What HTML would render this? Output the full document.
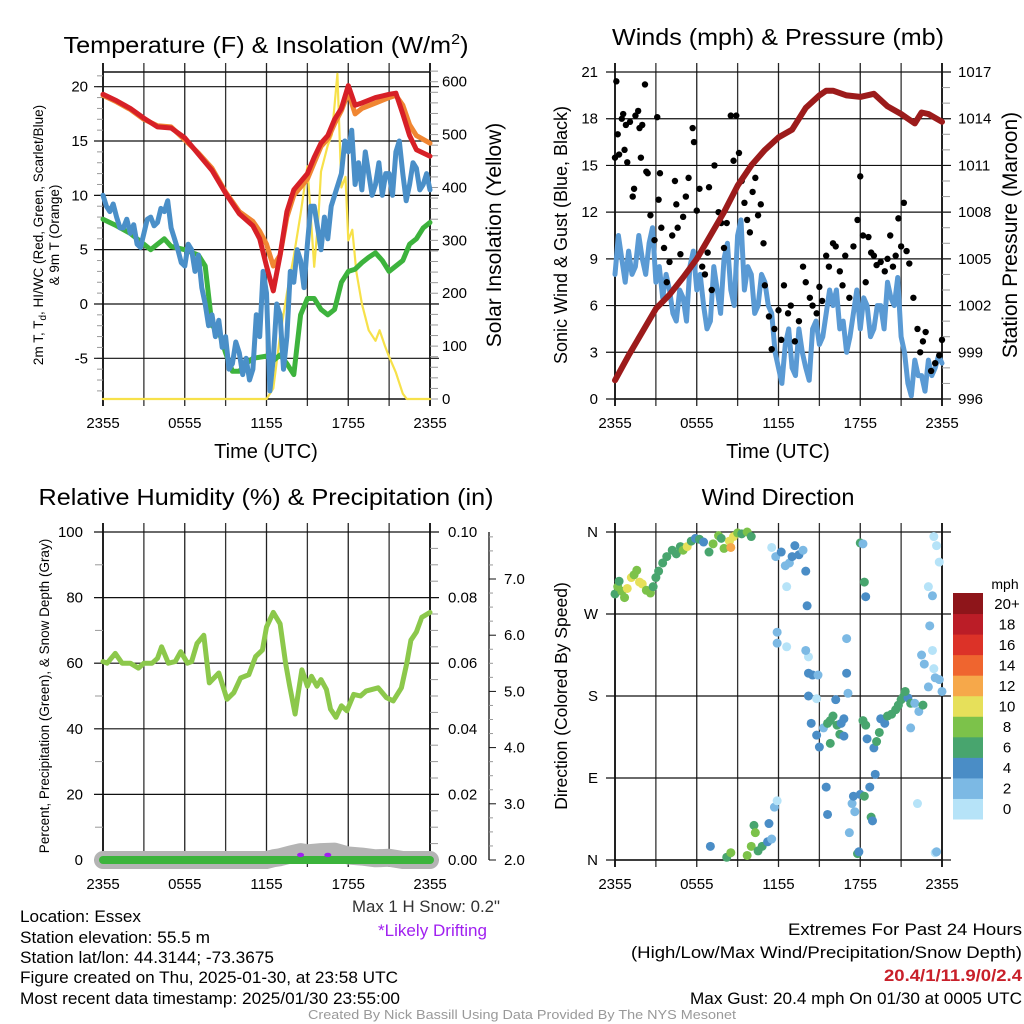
<!DOCTYPE html>
<html><head><meta charset="utf-8"><style>
html,body{margin:0;padding:0;background:#fff;width:1024px;height:1024px;overflow:hidden}
svg text{font-family:"Liberation Sans",sans-serif;fill:#000}
</style></head><body>
<svg id="fig" width="1024" height="1024" viewBox="0 0 1024 1024" xmlns="http://www.w3.org/2000/svg">
<g id="static">
<text x="266" y="53" font-size="23.5" text-anchor="middle" textLength="405" lengthAdjust="spacingAndGlyphs">Temperature (F) &amp; Insolation (W/m<tspan font-size="15" dy="-9">2</tspan><tspan dy="9">)</tspan></text>
<text x="778" y="45" font-size="23.5" text-anchor="middle" textLength="332" lengthAdjust="spacingAndGlyphs">Winds (mph) &amp; Pressure (mb)</text>
<text x="266" y="505" font-size="23.5" text-anchor="middle" textLength="455" lengthAdjust="spacingAndGlyphs">Relative Humidity (%) &amp; Precipitation (in)</text>
<text x="778" y="505" font-size="23.5" text-anchor="middle">Wind Direction</text>
<text x="266" y="458" font-size="20" text-anchor="middle">Time (UTC)</text>
<text x="778" y="458" font-size="20" text-anchor="middle">Time (UTC)</text>
<text transform="translate(43,235) rotate(-90)" font-size="13.5" text-anchor="middle">2m T, T<tspan font-size="10" dy="3">d</tspan><tspan dy="-3">, HI/WC (Red, Green, Scarlet/Blue)</tspan></text>
<text transform="translate(59,235) rotate(-90)" font-size="13.5" text-anchor="middle">&amp; 9m T (Orange)</text>
<text transform="translate(501,235) rotate(-90)" font-size="21" text-anchor="middle">Solar Insolation (Yellow)</text>
<text transform="translate(567,235) rotate(-90)" font-size="18" text-anchor="middle">Sonic Wind &amp; Gust (Blue, Black)</text>
<text transform="translate(1017,235) rotate(-90)" font-size="21" text-anchor="middle">Station Pressure (Maroon)</text>
<text transform="translate(49,696) rotate(-90)" font-size="13.5" text-anchor="middle">Percent, Precipitation (Green), &amp; Snow Depth (Gray)</text>
<text transform="translate(567,696) rotate(-90)" font-size="17.5" text-anchor="middle">Direction (Colored By Speed)</text>
<text x="1005" y="589" font-size="14" text-anchor="middle">mph</text>

<text x="500" y="912" font-size="16.5" text-anchor="end" style="fill:#333" textLength="148" lengthAdjust="spacingAndGlyphs">Max 1 H Snow: 0.2"</text>
<text x="487" y="936" font-size="16.5" text-anchor="end" style="fill:#a020f0" textLength="109" lengthAdjust="spacingAndGlyphs">*Likely Drifting</text>
<text x="20" y="922" font-size="16.5" textLength="121" lengthAdjust="spacingAndGlyphs">Location: Essex</text>
<text x="20" y="943" font-size="16.5" textLength="190" lengthAdjust="spacingAndGlyphs">Station elevation: 55.5 m</text>
<text x="20" y="963" font-size="16.5" textLength="254" lengthAdjust="spacingAndGlyphs">Station lat/lon: 44.3144; -73.3675</text>
<text x="20" y="983" font-size="16.5" textLength="378" lengthAdjust="spacingAndGlyphs">Figure created on Thu, 2025-01-30, at 23:58 UTC</text>
<text x="20" y="1004" font-size="16.5" textLength="380" lengthAdjust="spacingAndGlyphs">Most recent data timestamp: 2025/01/30 23:55:00</text>
<text x="1022" y="935" font-size="16.5" text-anchor="end" textLength="234" lengthAdjust="spacingAndGlyphs">Extremes For Past 24 Hours</text>
<text x="1022" y="958" font-size="16.5" text-anchor="end" textLength="391" lengthAdjust="spacingAndGlyphs">(High/Low/Max Wind/Precipitation/Snow Depth)</text>
<text x="1022" y="981" font-size="16.5" font-weight="bold" text-anchor="end" style="fill:#c8202a" textLength="138" lengthAdjust="spacingAndGlyphs">20.4/1/11.9/0/2.4</text>
<text x="1022" y="1004" font-size="16.5" text-anchor="end" textLength="332" lengthAdjust="spacingAndGlyphs">Max Gust: 20.4 mph On 01/30 at 0005 UTC</text>
<text x="522" y="1019" font-size="13" text-anchor="middle" style="fill:#999" textLength="428" lengthAdjust="spacingAndGlyphs">Created By Nick Bassill Using Data Provided By The NYS Mesonet</text>
</g>
</svg>
<script>
const timeTicks = ["2355","0555","1155","1755","2355"];
const tempTicks = [-5,0,5,10,15,20];
const solarTicks = [0,100,200,300,400,500,600];
const windTicks = [0,3,6,9,12,15,18,21];
const pressTicks = [996,999,1002,1005,1008,1011,1014,1017];
const rhTicks = [0,20,40,60,80,100];
const precipTicks = ["0.00","0.02","0.04","0.06","0.08","0.10"];
const snowTicks = ["2.0","3.0","4.0","5.0","6.0","7.0"];
const dirTicks = ["N","E","S","W","N"];
const speedBins = ["0","2","4","6","8","10","12","14","16","18","20+"];
const speedColors = ["#b6e3f8","#7cb9e4","#4a8dc6","#48a56e","#7cc24a","#e6e05a","#f6a84a","#ef652f","#dc3228","#bb1d27","#8e151a"];

const temp2m = [[0,19.3],[1,18.7],[2,18.0],[3,17.1],[4,16.3],[5,16.2],[6,15.3],[7,13.8],[8,12.3],[9,10.2],[10,8.3],[11,7.2],[11.5,6.0],[12,3.5],[12.5,1.2],[13,4.5],[13.5,8.5],[14,10.5],[15,12],[15.5,13.5],[16,14.8],[16.5,15.5],[17,17],[17.5,18],[18,20.1],[18.5,18.3],[19,18.5],[20,19.0],[21,19.3],[21.5,19.4],[22,17.5],[22.5,15.5],[23,14.2],[24,13.6]];
const temp9m = [[0,19.2],[1,18.6],[2,17.9],[3,17.0],[4,16.4],[5,16.3],[6,15.1],[7,13.9],[8,12.5],[9,10.3],[10,8.5],[11,7.6],[11.5,6.7],[12,5.5],[12.5,3.5],[13,4.5],[13.5,8.0],[14,10.0],[15,11.5],[15.5,13.0],[16,14.5],[16.5,15.2],[17,16.6],[17.5,17.8],[18,19.5],[18.5,17.5],[19,18.0],[20,18.5],[21,19.0],[21.5,19.2],[22,18.3],[22.5,16.5],[23,15.5],[24,14.8]];
const windChill = [[0,10],[0.25,9],[0.5,8.5],[0.75,9.2],[1,8],[1.25,7],[1.5,7],[1.75,7.8],[2,6.5],[2.25,7.3],[2.5,5.5],[2.75,5.2],[3,6.5],[3.25,7.8],[3.5,8],[3.75,7.2],[4,7.5],[4.25,8.8],[4.5,8.5],[4.75,9.5],[5,7],[5.25,6],[5.5,5],[5.75,3.8],[6,3.5],[6.25,5.5],[6.5,5],[6.75,3],[7,4.5],[7.25,1.5],[7.5,0],[7.75,-2],[8,-1],[8.25,-3],[8.5,-1.5],[8.75,-4],[9,-3],[9.25,-6],[9.5,-5.5],[9.75,-3.5],[10,-4.5],[10.25,-6.5],[10.5,-5],[10.75,-7],[11,-6],[11.25,-1],[11.5,-3],[11.75,3],[12,1],[12.25,-8],[12.5,-5],[12.75,0],[13,-1],[13.25,-6],[13.5,-3],[13.75,3],[14,2],[14.25,5],[14.5,4],[14.75,1.5],[15,5.5],[15.25,9],[15.5,9],[15.75,7],[16,5],[16.25,8],[16.5,6],[16.75,9],[17,10],[17.25,11],[17.5,12],[17.75,15],[18,14],[18.25,16],[18.5,11],[18.75,13],[19,10.5],[19.25,14],[19.5,12],[19.75,10],[20,11],[20.25,13],[20.5,10],[20.75,12],[21,12],[21.25,10],[21.5,14],[21.75,15],[22,12],[22.25,9.5],[22.5,11],[22.75,13],[23,12.5],[23.25,10.5],[23.5,11],[23.75,12],[24,10.5]];
const dewPoint = [[0,7.8],[1,7.2],[2,6.5],[3,5.5],[3.5,5],[4,5.5],[4.5,6],[5,5.3],[6,5],[7,4.5],[7.5,3.5],[8,-2],[8.5,-2.5],[9,-4.5],[9.5,-6.2],[10,-6.2],[10.5,-5.5],[11,-5],[12,-4.8],[12.5,-5.2],[13,-4.7],[13.5,-5.5],[14,-6.5],[14.5,-1],[15,0.5],[15.5,0.5],[16,-0.5],[16.5,-1],[17,-0.5],[17.5,2],[18,3],[18.5,3.2],[19,3.8],[19.5,4.3],[20,4.7],[20.5,4],[21,3],[21.5,3.5],[22,4],[22.5,5.5],[23,6],[23.5,7],[24,7.5]];
const solar = [[0,0],[12,0],[12.5,20],[13,120],[13.5,200],[14,270],[14.5,350],[15,440],[15.5,250],[15.8,340],[16,430],[16.5,480],[16.8,500],[17.2,615],[17.5,400],[17.8,420],[18,300],[18.3,320],[18.6,240],[19,180],[19.5,130],[20,110],[20.3,130],[20.7,100],[21,80],[21.5,50],[22,10],[22.3,0],[24,0]];

const pressure = [[0,997.2],[1,998.8],[2,1000.3],[3,1001.8],[4,1002.7],[5,1003.8],[6,1005],[7,1006.5],[8,1008],[9,1009.7],[10,1011],[11,1012],[12,1012.8],[13,1013.3],[14,1014.7],[15,1015.5],[15.5,1015.8],[16,1015.8],[17,1015.5],[18,1015.4],[19,1015.6],[20,1014.8],[21,1014.3],[21.5,1014],[22,1013.7],[22.5,1014.4],[23,1014.3],[24,1013.8]];
const sonicWind = [[0,8],[0.25,10.5],[0.5,9],[0.75,7.5],[1,9.5],[1.25,8],[1.5,8.5],[1.75,10.5],[2,9],[2.25,8],[2.5,10],[2.75,11],[3,7.5],[3.25,8.5],[3.5,6.5],[3.75,8],[4,7],[4.25,5.5],[4.5,5],[4.75,7],[5,6.5],[5.25,5],[5.5,8.5],[5.75,9.5],[6,7],[6.25,8],[6.5,6],[6.75,4.5],[7,5],[7.25,8.5],[7.5,7],[7.75,5.5],[8,9],[8.25,10],[8.5,7],[8.75,6],[9,10.5],[9.25,11.5],[9.5,7],[9.75,8.5],[10,8],[10.25,5.5],[10.5,6],[10.75,8],[11,7.5],[11.25,6],[11.5,5.5],[11.75,3],[12,2],[12.25,1],[12.5,3.5],[12.75,4.5],[13,2],[13.25,1.5],[13.5,4.5],[13.75,3],[14,2],[14.25,1.2],[14.5,4.5],[14.75,5],[15,3.5],[15.25,4],[15.5,5.5],[15.75,7],[16,6],[16.25,7],[16.5,4.5],[16.75,5],[17,3],[17.25,4],[17.5,5.5],[17.75,7],[18,4.5],[18.25,6.5],[18.5,6],[18.75,4],[19,4.5],[19.25,6],[19.5,6],[19.75,4.5],[20,7.5],[20.25,6.5],[20.5,6],[20.75,7.8],[21,4],[21.25,3],[21.5,1],[21.75,0.2],[22,2.5],[22.25,1.5],[22.5,1.5],[22.75,0.5],[23,2.5],[23.25,1.5],[23.5,2],[23.75,2.8],[24,2.3]];
const gusts = [[0.0,15.5],[0.1,20.4],[0.2,17],[0.3,15.7],[0.5,18],[0.6,18.3],[0.7,16],[0.8,17.6],[0.9,15.2],[1.1,17.8],[1.3,13],[1.4,13.5],[1.5,18.2],[1.7,18.5],[1.8,17.4],[1.9,15.5],[2.0,17.6],[2.2,20.2],[2.3,14.6],[2.4,14.5],[2.6,11.8],[2.9,10.2],[3.1,18.1],[3.2,12.8],[3.3,14.5],[3.4,11],[3.6,9.7],[3.8,7.5],[4.0,8.8],[4.2,10.5],[4.4,14],[4.5,12.5],[4.6,11],[4.8,9.3],[5.0,11.7],[5.2,13],[5.4,14.2],[5.7,17.4],[5.8,16.5],[6.0,12.1],[6.2,13.5],[6.4,8.5],[6.6,8],[6.8,9.4],[6.9,13.6],[7.1,7],[7.3,15],[7.6,12],[7.8,11.3],[8.0,9.7],[8.2,11.3],[8.5,18.2],[8.7,15.3],[8.9,18.2],[9.1,15.8],[9.3,14],[9.5,12.6],[9.7,11.5],[9.9,10.7],[10.1,13.3],[10.3,14.2],[10.5,11.8],[10.7,12.5],[10.9,10],[11.0,7.3],[11.3,5.3],[11.5,3.2],[11.7,4.5],[12.0,5.7],[12.2,3.8],[12.4,7.3],[12.7,5.5],[12.9,6],[13.2,3.7],[13.5,5],[13.8,8.5],[14.0,7.5],[14.3,6.5],[14.5,6],[14.8,5.5],[15.0,7.2],[15.2,6.3],[15.5,9.2],[15.7,8.5],[16.0,10],[16.2,9.8],[16.5,8.2],[16.7,7.3],[16.9,9.2],[17.2,6.5],[17.5,9.8],[17.8,11.5],[18.0,14.3],[18.2,10.5],[18.4,7.5],[18.6,10.4],[18.8,9.4],[19.0,9.2],[19.2,8.6],[19.5,8.8],[19.8,8.2],[20.0,9],[20.2,10.5],[20.4,8.5],[20.6,9.2],[20.8,11.6],[21.0,9.8],[21.2,12.6],[21.4,9.5],[21.6,8.7],[21.9,6.5],[22.2,4.5],[22.4,3],[22.6,3.7],[22.8,4.3],[23.2,1.8],[23.5,2.3],[23.8,2.8],[24.0,3.8]];

const relHum = [[0,60.5],[0.3,60],[0.9,63],[1.4,60],[2.0,60],[2.6,58.5],[3.0,60],[3.6,60],[4.0,61.5],[4.3,65],[4.8,60],[5.3,60.5],[5.7,63.5],[6.2,60],[6.5,60.5],[6.9,66],[7.4,68.5],[7.8,54],[8.5,57],[9.1,49],[9.6,51],[10.1,55.5],[10.7,56.5],[11.2,62],[11.7,64],[12.0,71],[12.5,75.5],[13.0,72],[13.4,60],[13.7,53],[14.1,44.5],[14.3,50],[14.6,58],[15.0,53],[15.3,56],[15.7,53],[16.0,55],[16.4,52],[16.7,46],[17.1,43.5],[17.5,47],[17.9,45.5],[18.4,50.5],[18.9,50],[19.3,51.5],[20.2,52.5],[20.8,49.5],[21.3,48.5],[21.9,52.5],[22.3,60],[22.6,67],[23.0,69.5],[23.4,74],[24,75.5]];
const precip = [[0,0],[24,0]];
const snowDepth = [[0,2.0],[12,2.0],[12.5,2.03],[13,2.05],[13.8,2.1],[14.5,2.14],[15,2.12],[16,2.14],[17,2.15],[18,2.08],[19,2.06],[20,2.03],[21,2.04],[22,2.0],[24,2.0]];
const drifting = [[14.5,2.09],[16.5,2.09]];

const windDir = [[0.0,292,7],[0.2,300,8],[0.3,306,6],[0.5,295,8],[0.7,288,9],[0.9,298,10],[1.2,310,10],[1.4,313,8],[1.6,318,8],[1.8,305,10],[2.0,303,10],[2.3,296,9],[2.6,293,8],[2.8,300,7],[3.0,310,6],[3.2,317,6],[3.5,326,7],[3.8,333,6],[4.2,340,6],[4.5,336,7],[4.8,344,6],[5.0,340,8],[5.3,344,10],[5.6,350,6],[5.9,353,4],[6.2,352,7],[6.5,349,4],[6.9,338,7],[7.2,347,8],[7.6,356,8],[7.8,353,7],[8.0,342,8],[8.4,350,10],[8.5,343,12],[8.7,355,10],[9.0,359,8],[9.3,358,6],[9.7,360,8],[10.0,355,7],
[11.5,343,0],[11.8,333,2],[12.2,338,4],[12.5,323,2],[12.8,326,2],[13.0,333,4],[13.2,345,4],[13.5,335,4],[13.8,340,2],[14.0,317,4],[14.1,279,4],[12.6,300,0],
[11.9,250,2],[11.9,238,2],[12.6,234,0],[14.2,223,0],[14.0,230,2],[14.2,205,4],[14.5,203,4],[14.9,203,2],[14.2,180,4],[14.8,177,0],[14.4,150,4],[14.8,137,4],[15.0,124,4],[15.3,145,2],[15.6,150,6],[15.8,153,6],[16.0,158,6],[16.3,148,6],[16.6,150,4],[16.8,155,4],[16.5,138,6],[16.8,136,4],[15.8,128,6],[16.2,176,4],[17.0,205,4],[17.1,183,2],[17.0,243,2],
[18.2,153,6],[18.4,148,6],[18.5,133,4],[19.0,123,4],[19.2,130,6],[19.5,155,4],[19.8,150,4],[19.4,140,6],[20.0,158,6],[20.3,160,6],[20.6,165,6],[20.8,170,6],[21.0,176,6],[21.2,180,6],[21.5,178,4],[21.7,172,6],[22.0,172,2],[22.3,163,2],[22.6,170,6],[21.7,145,2],[21.3,185,6],
[22.5,225,2],[22.7,215,2],[23.0,190,2],[23.5,200,2],[23.8,198,2],[24.0,185,2],[23.0,300,0],[23.3,290,2],[23.4,355,0],[23.6,345,0],[23.8,327,0],[23.1,257,2],[23.3,230,0],[23.4,210,0],
[7.0,15,4],[8.2,3,6],[8.5,8,8],[9.7,5,8],[10.0,15,8],[10.2,38,6],[10.3,30,8],[10.5,10,6],[10.8,15,6],[11.2,20,4],[11.5,23,2],[11.7,58,2],[11.9,65,0],[11.3,40,4],[15.5,80,4],[15.6,50,4],[17.2,30,2],[17.4,62,2],[17.5,70,4],[17.6,53,2],[17.8,7,6],[17.9,9,4],[18.0,72,4],[18.3,70,6],[18.7,80,4],[18.8,47,6],[18.9,43,4],[19.1,94,4],[22.2,62,0],[23.5,8,0],[23.6,9,2],
[18.0,348,6],[18.2,347,2],[18.3,305,6],[18.4,289,4]];

const NS="http://www.w3.org/2000/svg";
const svg=document.getElementById('fig');
function el(tag,attrs,parent){const e=document.createElementNS(NS,tag);for(const k in attrs)e.setAttribute(k,attrs[k]);(parent||svg).appendChild(e);return e;}
function txt(s,x,y,size,anchor,parent){const t=el('text',{x:x,y:y,'font-size':size,'text-anchor':anchor||'middle'},parent);t.textContent=s;return t;}

const P={tl:[103,430,72,399],tr:[615,942,72,399],bl:[103,430,532,860],br:[615,942,532,860]};
function xScale(p){return t=>p[0]+t*(p[1]-p[0])/24;}
function yScale(p,lo,hi){return v=>p[3]-(v-lo)*(p[3]-p[2])/(hi-lo);}
const xTL=xScale(P.tl), xTR=xScale(P.tr), xBL=xScale(P.bl), xBR=xScale(P.br);
const yTemp=v=>86.7+(20-v)*10.864;
const ySolar=v=>399-v*0.5288;
const yWind=yScale(P.tr,0,21), yPress=yScale(P.tr,996,1017);
const yRH=yScale(P.bl,0,100), yPrecip=yScale(P.bl,0,0.1), ySnow=v=>860-(v-2)*56.2;
const yDir=yScale(P.br,0,360);

function frame(p,name,hasTop){
  const g=el('g',{});
  
  
  for(let i=0;i<=8;i++){
    const x=p[0]+i*(p[1]-p[0])/8;
    const l=el('line',{x1:x,x2:x,y1:p[2]-9,y2:p[3]+7,stroke:(i%2? '#333':'#222'),'stroke-width':(i==0||i==8)?2:1.3},g);
    
    
  }
  if(hasTop){el('line',{x1:p[0],x2:p[1],y1:p[2],y2:p[2],stroke:'#111','stroke-width':1.5},g);}
  el('line',{x1:p[0],x2:p[1],y1:p[3],y2:p[3],stroke:'#111','stroke-width':1.5},g);
  timeTicks.forEach((s,i)=>{const t=txt(s,p[0]+i*(p[1]-p[0])/4,p[3]+29,15,'middle',g);
    
    });
  return g;
}
function hgrid(p,y,g){el('line',{x1:p[0]-9,x2:p[1]+9,y1:y,y2:y,stroke:'#111','stroke-width':1.2},g);}
function minor(x,y,len,g){el('line',{x1:x,x2:x+len,y1:y,y2:y,stroke:'#999','stroke-width':1},g);}
function path(pts,xs,ys,color,w,name,g){
  const d=pts.map((p,i)=>(i?'L':'M')+xs(p[0]).toFixed(1)+','+ys(p[1]).toFixed(1)).join('');
  const e=el('path',{d:d,fill:'none',stroke:color,'stroke-width':w,'stroke-linejoin':'round','stroke-linecap':'round'},g);
  
  
  return e;
}

// ---- Top-left
let g=frame(P.tl,'temperature',true);
for(let v=-8;v<=21;v++){minor(P.tl[0]-6,yTemp(v),6,g);}
for(let s=0;s<=620;s+=20){minor(P.tl[1],ySolar(s),8,g);}
tempTicks.forEach(v=>{hgrid(P.tl,yTemp(v),g);const t=txt(String(v),88,yTemp(v)+5,15,'end',g);
  
  });
solarTicks.forEach(v=>{const t=txt(String(v),442,ySolar(v)+5,15,'start',g);
  
  });
path(solar,xTL,ySolar,'#f7e14a',2.2,'solar-insolation-line',g);
path(dewPoint,xTL,yTemp,'#3db33d',5,'dewpoint-line',g);
path(windChill,xTL,yTemp,'#4a8fc8',5,'wind-chill-line',g);
path(temp9m,xTL,yTemp,'#f08632',5,'temp-9m-line',g);
path(temp2m,xTL,yTemp,'#d72027',5,'temp-2m-line',g);

// ---- Top-right
g=frame(P.tr,'winds',false);
for(let v=996;v<=1017;v++){minor(P.tr[1],yPress(v),8,g);}
windTicks.forEach((v,i)=>{hgrid(P.tr,yWind(v),g);const t=txt(String(v),598,yWind(v)+5,15,'end',g);
  
  
  const t2=txt(String(pressTicks[i]),958,yPress(pressTicks[i])+5,15,'start',g);
  
  });
path(sonicWind,xTR,yWind,'#5a9ad4',5,'sonic-wind-line',g);
gusts.forEach(p=>{const c=el('circle',{cx:xTR(p[0]),cy:yWind(p[1]),r:3.2,fill:'#000'},g);
  
  });
path(pressure,xTR,yPress,'#9c1b1b',6,'pressure-line',g);

// ---- Bottom-left
g=frame(P.bl,'humidity',false);
for(let v=0;v<=100;v+=5){minor(P.bl[1],yRH(v),8,g);}
for(let v=0;v<=100;v+=10){minor(P.bl[0]-8,yRH(v),8,g);}
rhTicks.forEach((v,i)=>{hgrid(P.bl,yRH(v),g);const t=txt(String(v),83,yRH(v)+5,15,'end',g);
  
  
  const t2=txt(precipTicks[i],448,yRH(v)+5,15,'start',g);
  
  });
el('line',{x1:489,x2:489,y1:532,y2:860,stroke:'#111','stroke-width':1.3},g);
for(let s=2;s<=7.8;s+=0.25){el('line',{x1:489,x2:(Math.abs(s-Math.round(s))<0.01?496:493),y1:ySnow(s),y2:ySnow(s),stroke:(Math.abs(s-Math.round(s))<0.01?'#111':'#999'),'stroke-width':1},g);}
snowTicks.forEach(s=>{const t=txt(s,504,ySnow(parseFloat(s))+5,15,'start',g);
  
  });
path(snowDepth,xBL,ySnow,'#b4b4b4',18,'snow-depth-line',g);
path(precip,xBL,yPrecip,'#3cb43c',8,'precip-line',g);
drifting.forEach(p=>{const c=el('ellipse',{cx:xBL(p[0]),cy:ySnow(p[1]),rx:3.5,ry:2.2,fill:'#a020f0'},g);
  
  });
path(relHum,xBL,yRH,'#8cc84b',5,'relative-humidity-line',g);

// ---- Bottom-right
g=frame(P.br,'direction',false);
dirTicks.forEach((s,i)=>{const y=yDir(i*90);hgrid(P.br,y,g);const t=txt(s,598,y+5,15,'end',g);
  
  });
windDir.forEach(p=>{const bin=Math.min(10,Math.floor(p[2]/2));
  const c=el('circle',{cx:xBR(p[0]),cy:yDir(p[1]),r:4.5,fill:speedColors[bin]},g);
  
  });
const cb=el('g',{});


const bh=(819-593)/speedBins.length;
speedBins.forEach((s,i)=>{const y=819-(i+1)*bh;
  const r=el('rect',{x:953,y:y,width:30,height:bh+0.5,fill:speedColors[i]},cb);
  
  
  const t=txt(s,1007,y+bh/2+5.5,15,'middle',cb);
  
  });
</script>
</body></html>
